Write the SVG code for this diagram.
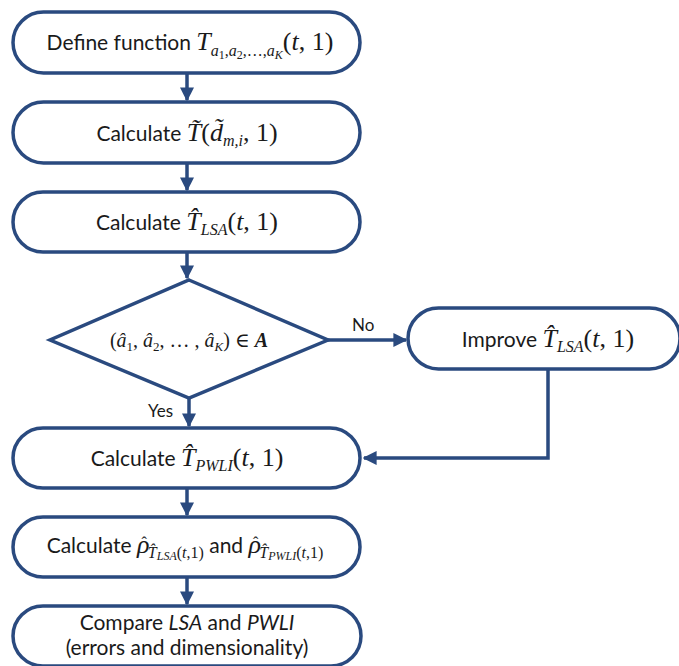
<svg xmlns="http://www.w3.org/2000/svg" width="679" height="666" viewBox="0 0 679 666">
<style>
.box{fill:#fff;stroke:#2A4A7F;stroke-width:3.5}
.ln{fill:none;stroke:#2A4A7F;stroke-width:3.5}
.t{font-family:Lato,"Open Sans","Liberation Sans",sans-serif;font-size:21px;fill:#1a1a1a}
.m{font-family:"Liberation Serif","DejaVu Serif",serif;font-style:italic}
.r{font-family:"Liberation Serif","DejaVu Serif",serif;font-style:normal}
.b{font-size:26px}
.s{font-size:16px}
.ss{font-size:12px}
.lbl{font-family:Lato,"Open Sans","Liberation Sans",sans-serif;font-size:17px;fill:#1a1a1a}
</style>
<defs>
<marker id="ah" viewBox="0 0 10 10" refX="9" refY="5" markerWidth="4" markerHeight="4" orient="auto" markerUnits="strokeWidth">
<path d="M0,0 L10,5 L0,10 z" fill="#2A4A7F"/>
</marker>
</defs>
<rect width="679" height="666" fill="#fff"/>
<g id="connectors">
<line class="ln" x1="187" y1="73" x2="187" y2="100" marker-end="url(#ah)"/>
<line class="ln" x1="187" y1="163" x2="187" y2="190" marker-end="url(#ah)"/>
<line class="ln" x1="187" y1="252" x2="187" y2="278" marker-end="url(#ah)"/>
<line class="ln" x1="189" y1="398" x2="189" y2="426" marker-end="url(#ah)"/>
<line class="ln" x1="328" y1="340" x2="406" y2="340" marker-end="url(#ah)"/>
<polyline class="ln" points="548,369 548,458 364,458" marker-end="url(#ah)"/>
<line class="ln" x1="187" y1="488" x2="187" y2="515" marker-end="url(#ah)"/>
<line class="ln" x1="187" y1="577" x2="187" y2="604" marker-end="url(#ah)"/>
<text class="lbl" x="352" y="331">No</text>
<text class="lbl" x="148" y="417">Yes</text>
</g>
<g id="n1">
<rect class="box" x="13" y="12" width="347" height="61" rx="30.5"/>
<text class="t" x="190" y="50" text-anchor="middle">Define function <tspan class="m b">T</tspan><tspan class="m s" dy="6">a</tspan><tspan class="r ss" dy="3">1</tspan><tspan class="r s" dy="-3">,</tspan><tspan class="m s">a</tspan><tspan class="r ss" dy="3">2</tspan><tspan class="r s" dy="-3">,…,</tspan><tspan class="m s">a</tspan><tspan class="m ss" dy="3">K</tspan><tspan class="r b" dy="-9">(</tspan><tspan class="m b">t</tspan><tspan class="r b">, 1)</tspan></text>
</g>
<g id="n2">
<rect class="box" x="13" y="102" width="347" height="61" rx="30.5"/>
<text class="t" x="187" y="141" text-anchor="middle">Calculate <tspan class="m b">T̃</tspan><tspan class="r b">(</tspan><tspan class="m b">d̃</tspan><tspan class="m s" dy="5">m,i</tspan><tspan class="r b" dy="-5">, 1)</tspan></text>
</g>
<g id="n3">
<rect class="box" x="13" y="192" width="347" height="60" rx="30"/>
<text class="t" x="187" y="230" text-anchor="middle">Calculate <tspan class="m b">T̂</tspan><tspan class="m s" dy="5">LSA</tspan><tspan class="r b" dy="-5">(</tspan><tspan class="m b">t</tspan><tspan class="r b">, 1)</tspan></text>
</g>
<g id="n4">
<polygon class="box" points="189,280 328,340 189,398 50,340"/>
<text class="r" font-size="20" x="189" y="347" text-anchor="middle" fill="#1a1a1a">(<tspan class="m">â</tspan><tspan font-size="13" dy="4">1</tspan><tspan dy="-4">, </tspan><tspan class="m">â</tspan><tspan font-size="13" dy="4">2</tspan><tspan dy="-4">, … , </tspan><tspan class="m">â</tspan><tspan class="m" font-size="13" dy="4">K</tspan><tspan dy="-4">) ∈ </tspan><tspan class="m" font-weight="bold">A</tspan></text>
</g>
<g id="n5">
<rect class="box" x="408" y="308" width="272" height="61" rx="30.5"/>
<text class="t" x="548" y="347" text-anchor="middle">Improve <tspan class="m b">T̂</tspan><tspan class="m s" dy="5">LSA</tspan><tspan class="r b" dy="-5">(</tspan><tspan class="m b">t</tspan><tspan class="r b">, 1)</tspan></text>
</g>
<g id="n6">
<rect class="box" x="13" y="428" width="347" height="60" rx="30"/>
<text class="t" x="187" y="466" text-anchor="middle">Calculate <tspan class="m b">T̂</tspan><tspan class="m s" dy="5">PWLI</tspan><tspan class="r b" dy="-5">(</tspan><tspan class="m b">t</tspan><tspan class="r b">, 1)</tspan></text>
</g>
<g id="n7">
<rect class="box" x="13" y="517" width="347" height="60" rx="30"/>
<text class="t" x="185" y="553" text-anchor="middle">Calculate <tspan class="m b">ρ</tspan><tspan class="r s" dx="-8" dy="-5">ˆ</tspan><tspan class="m s" dx="1" dy="10">T̂</tspan><tspan class="m ss" dy="2">LSA</tspan><tspan class="r s" dy="-2">(</tspan><tspan class="m s">t</tspan><tspan class="r s">,1)</tspan><tspan dy="-5"> and </tspan><tspan class="m b">ρ</tspan><tspan class="r s" dx="-8" dy="-5">ˆ</tspan><tspan class="m s" dx="1" dy="10">T̂</tspan><tspan class="m ss" dy="2">PWLI</tspan><tspan class="r s" dy="-2">(</tspan><tspan class="m s">t</tspan><tspan class="r s">,1)</tspan></text>
</g>
<g id="n8">
<rect class="box" x="13" y="606" width="348" height="60" rx="30"/>
<text class="t" x="187" y="630" text-anchor="middle">Compare <tspan font-style="italic">LSA</tspan> and <tspan font-style="italic">PWLI</tspan></text>
<text class="t" x="187" y="655" text-anchor="middle">(errors and dimensionality)</text>
</g>
</svg>
